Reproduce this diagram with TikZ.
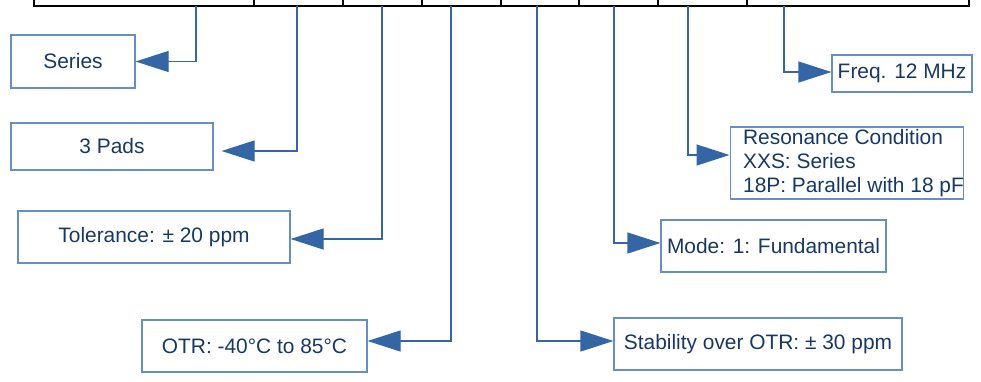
\documentclass[tikz,border=0pt]{standalone}
\usepackage{fontspec}
\setmainfont{Liberation Sans}
\usetikzlibrary{arrows.meta}
\definecolor{linkblue}{RGB}{52,101,164}
\definecolor{boxblue}{RGB}{104,142,200}
\definecolor{textblue}{RGB}{24,56,100}

\begin{document}
\begin{tikzpicture}[x=0.5pt,y=-0.5pt,
    infobox/.style={draw=boxblue,line width=0.6pt,text=textblue,inner sep=0pt,
      font=\fontsize{10.45}{11.8}\selectfont},
    conn/.style={draw=linkblue,line width=0.6pt,-{Triangle[length=16.5pt,width=10.5pt]}},
    cell/.style={draw=black,line width=1pt}]
  \clip (0,0) rectangle (981,381);

  % part number row
  \draw[cell] (34,-20) rectangle (969,6);
  \foreach \x in {254,343,422,501,579,658,747}
    \draw[cell] (\x,-20) -- (\x,6);

  % where the leaders leave the row
  \coordinate (d1) at (196,6);
  \coordinate (d2) at (297,6);
  \coordinate (d3) at (382,6);
  \coordinate (d4) at (451,6);
  \coordinate (d5) at (537,6);
  \coordinate (d6) at (614,6);
  \coordinate (d7) at (688,6);
  \coordinate (d8) at (784,6);

  % left side
  \node[infobox,minimum width=62pt,minimum height=26.5pt] (series) at (73,61.5) {Series};
  \node[infobox,minimum width=101pt,minimum height=23.5pt] (pads) at (112,146.5) {3 Pads};
  \node[infobox,minimum width=136pt,minimum height=26pt] (tol) at (154,237) {Tolerance: ± 20 ppm};
  \node[infobox,minimum width=112.5pt,minimum height=26pt] (otr) at (254.5,346) {OTR: -40°C to 85°C};

  % right side
  \node[infobox,minimum width=144pt,minimum height=26pt] (stab) at (758,344) {Stability over OTR: ± 30 ppm};
  \node[infobox,minimum width=112.5pt,minimum height=26pt] (mode) at (773.5,246) {Mode: 1: Fundamental};
  \node[infobox,align=left,minimum width=116pt,minimum height=36pt] (res) at (847,163)
    {\hspace*{6.5pt}Resonance Condition\\\hspace*{6.5pt}XXS: Series\\\hspace*{6.5pt}18P: Parallel with 18 pF};
  \node[infobox,minimum width=70pt,minimum height=18.5pt] (freq) at (902,73.5) {Freq. 12 MHz};

  \draw[conn] (d1) |- (series.east);
  \draw[conn,shorten >=4pt] (d2) |- ([yshift=-2.25pt]pads.east);
  \draw[conn] (d3) |- ([yshift=-1pt]tol.east);
  \draw[conn] (d4) |- ([yshift=2.5pt]otr.east);
  \draw[conn] (d5) |- ([yshift=1.5pt]stab.west);
  \draw[conn] (d6) |- ([yshift=1.5pt]mode.west);
  \draw[conn] (d7) |- ([yshift=4pt]res.west);
  \draw[conn] (d8) |- ([yshift=0.75pt]freq.west);
\end{tikzpicture}
\end{document}
